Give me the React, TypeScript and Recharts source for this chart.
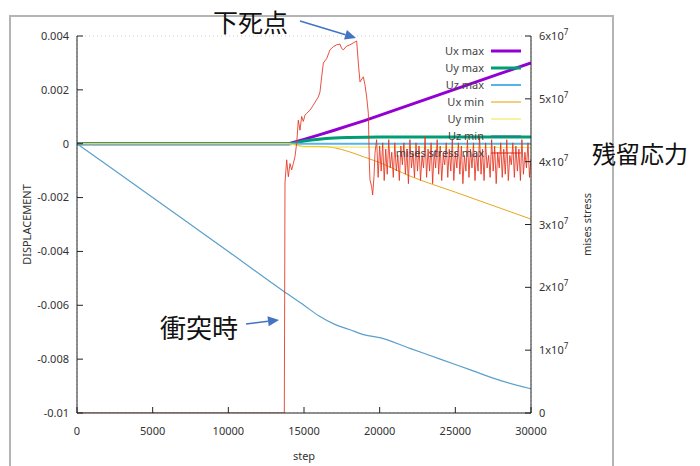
import React from "react";
import { ComposedChart, Line, XAxis, YAxis, CartesianGrid, Legend } from "recharts";

// step axis / displacement axis / stress axis (x10^7)
const stepTicks = [0, 5000, 10000, 15000, 20000, 25000, 30000];
const dispTicks = [-0.01, -0.008, -0.006, -0.004, -0.002, 0, 0.002, 0.004];
const stressTicks = [0, 1, 2, 3, 4, 5, 6];

// [step, displacement]
const uxMax = [
  [0, 0], [14000, 0], [15000, 0.00016], [16000, 0.00033], [17000, 0.0005], [18000, 0.00068],
  [19000, 0.00086], [20000, 0.00105], [22000, 0.00144], [24000, 0.00183], [26000, 0.00222],
  [28000, 0.00261], [30000, 0.003],
];
const uyMax = [
  [0, 0], [14000, 0], [15000, 0.0001], [16000, 0.00017], [17000, 0.00021], [18000, 0.00023],
  [20000, 0.00025], [30000, 0.00025],
];
const uzMax = [[0, 0], [14000, 0], [30000, 0]];
const uxMin = [
  [0, 0], [14000, 0], [15000, -0.0001], [16000, -0.0001], [17000, -0.00015], [18000, -0.0003],
  [19000, -0.0005], [20000, -0.0007], [22000, -0.0012], [25000, -0.0018], [28000, -0.0024],
  [30000, -0.0028],
];
const uyMin = [[0, 0], [14000, 0], [15000, -0.00012], [30000, -0.00014]];
const uzMin = [
  [0, 0], [5000, -0.002], [10000, -0.004], [13700, -0.0055], [15000, -0.006], [16000, -0.0064],
  [17000, -0.0067], [18000, -0.0069], [19000, -0.0071], [20000, -0.0072], [22000, -0.0076],
  [24000, -0.008], [26000, -0.0084], [28000, -0.0088], [30000, -0.0091],
];

// [step, mises stress x10^7]
const stressHead = [
  [0, 0], [13700, 0], [13744, 3.66], [13855, 4.03], [13965, 3.76], [14075, 3.97], [14185, 3.87],
  [14295, 3.97], [14405, 4.08], [14515, 4.29], [14625, 4.66], [14735, 4.5], [14845, 4.72],
  [14955, 4.64], [15066, 4.74], [15176, 4.77], [15396, 4.82], [15616, 4.9], [15947, 5.03],
  [16057, 5.11], [16167, 5.35], [16278, 5.57], [16498, 5.64], [16718, 5.78], [16938, 5.83],
  [17159, 5.86], [17379, 5.87], [17489, 5.8], [17599, 5.78], [17819, 5.84], [18040, 5.86],
  [18260, 5.89], [18480, 5.92], [18590, 5.57], [18700, 5.27], [18921, 5.35], [19031, 5.22],
  [19141, 5.03], [19251, 4.77], [19317, 3.98], [19361, 3.71], [19471, 3.6], [19537, 3.47],
  [19625, 3.76], [19692, 4.14],
];
// residual oscillation, one value every 100 steps from 19800
const stressTail = [
  4.35, 3.75, 4.25, 3.85, 4.3, 3.7, 4.2, 3.8, 4.35, 3.9, 4.15, 3.75, 4.3, 3.85, 4.1, 3.7, 4.25,
  3.95, 4.3, 3.8, 4.2, 3.65, 4.35, 3.9, 4.15, 3.75, 4.3, 3.85, 4.25, 3.7, 4.1, 3.9, 4.4, 3.75,
  4.2, 3.85, 4.3, 3.65, 4.15, 3.9, 4.35, 3.8, 4.25, 3.7, 4.1, 3.95, 4.3, 3.75, 4.2, 3.85, 4.35,
  3.7, 4.15, 3.9, 4.3, 3.8, 4.25, 3.65, 4.1, 3.85, 4.35, 3.75, 4.2, 3.9, 4.3, 3.7, 4.15, 3.85,
  4.4, 3.8, 4.2, 3.7, 4.3, 3.9, 4.1, 3.75, 4.35, 3.85, 4.25, 3.65, 4.15, 3.9, 4.3, 3.75, 4.2,
  3.8, 4.35, 3.7, 4.1, 3.95, 4.3, 3.75, 4.25, 3.85, 4.2, 3.7, 4.35, 3.8, 4.15, 3.9, 4.3, 3.75,
  4.05,
];

const pts = (arr: number[][]) => arr.map(([s, v]) => ({ s, v }));
const stressData = [
  ...pts(stressHead),
  ...stressTail.map((v, i) => ({ s: 19800 + i * 100, v })),
];

const legendItems = [
  { name: "Ux max", color: "#9400d3", w: 3 },
  { name: "Uy max", color: "#009e73", w: 3 },
  { name: "Uz max", color: "#56b4e9", w: 2 },
  { name: "Ux min", color: "#e69f00", w: 1 },
  { name: "Uy min", color: "#f0e442", w: 1 },
  { name: "Uz min", color: "#2f6f8f", w: 1 },
  { name: "mises stress max", color: "#e51e10", w: 1 },
];

const FONT = "'Noto Sans', sans-serif";
const tickStyle = { fontSize: 11, fill: "#333", fontFamily: FONT };

const StressTick = (props: any) => {
  const { x, y, payload } = props;
  const v = payload.value;
  return (
    <text x={x} y={y} dy={4} textAnchor="start" {...tickStyle}>
      {v === 0 ? "0" : (
        <>
          {v}x10<tspan dy={-5} fontSize={8}>7</tspan>
        </>
      )}
    </text>
  );
};

const renderLegend = () => (
  <svg width={160} height={125} style={{ display: "block" }}>
    {legendItems.map((it, i) => {
      const y = 9 + i * 17;
      return (
        <g key={it.name}>
          <text x={104} y={y} dy={4} textAnchor="end" fontSize={11} fill="#444" fontFamily={FONT}>
            {it.name}
          </text>
          <line x1={111} x2={141} y1={y} y2={y} stroke={it.color} strokeWidth={it.w} />
        </g>
      );
    })}
  </svg>
);

const Arrow = ({ x1, y1, x2, y2 }: { x1: number; y1: number; x2: number; y2: number }) => {
  const a = Math.atan2(y2 - y1, x2 - x1);
  const L = 11, W = 5;
  const bx = x2 - L * Math.cos(a), by = y2 - L * Math.sin(a);
  const p1 = `${bx + W * Math.sin(a)},${by - W * Math.cos(a)}`;
  const p2 = `${bx - W * Math.sin(a)},${by + W * Math.cos(a)}`;
  return (
    <g>
      <line x1={x1} y1={y1} x2={bx} y2={by} stroke="#4472c4" strokeWidth={1.5} />
      <polygon points={`${x2},${y2} ${p1} ${p2}`} fill="#4472c4" />
    </g>
  );
};

const jp = { position: "absolute" as const, fontFamily: "'Noto Sans CJK JP', sans-serif", color: "#111", lineHeight: 1, whiteSpace: "nowrap" as const };

export default function App() {
  return (
    <div style={{ position: "absolute", left: 0, top: 0, width: 700, height: 466, background: "#fff", overflow: "hidden" }}>
      <div style={{ position: "absolute", left: 9, top: 15, width: 601, height: 470, border: "2px solid #b4b4b4" }} />
      <div style={{ position: "absolute", left: 0, top: 0 }}>
        <ComposedChart width={700} height={466} margin={{ top: 36, right: 109, bottom: 13, left: 17 }}>
          <CartesianGrid stroke="#cccccc" strokeDasharray="1 3" horizontal vertical />
          <XAxis xAxisId="b" dataKey="s" type="number" domain={[0, 30000]} ticks={stepTicks}
            allowDataOverflow height={40} tick={tickStyle} stroke="#222" tickSize={-6} tickMargin={20}
            label={{ value: "step", position: "bottom", offset: -1, style: { ...tickStyle } }} />
          <XAxis xAxisId="t" orientation="top" type="number" domain={[0, 30000]} ticks={stepTicks}
            height={0} tick={false} stroke="#222" tickSize={-6} />
          <YAxis yAxisId="d" type="number" domain={[-0.01, 0.004]} ticks={dispTicks} width={60}
            allowDataOverflow tick={tickStyle} stroke="#222" tickSize={-6} tickMargin={14}
            tickFormatter={(v: number) => String(v)}
            label={{ value: "DISPLACEMENT", angle: -90, position: "insideLeft", offset: 10, style: { ...tickStyle, textAnchor: "middle" } }} />
          <YAxis yAxisId="m" orientation="right" type="number" domain={[0, 6]} ticks={stressTicks} width={60}
            allowDataOverflow tick={<StressTick />} stroke="#222" tickSize={-6} tickMargin={14}
            label={{ value: "mises stress", angle: -90, position: "insideRight", offset: 4, style: { ...tickStyle, textAnchor: "middle" } }} />
          <Legend content={renderLegend} layout="horizontal" verticalAlign="middle" align="center"
            wrapperStyle={{ left: 380, top: 42, width: 160, height: 125 }} />
          <Line xAxisId="b" yAxisId="d" data={pts(uxMax)} dataKey="v" name="Ux max" stroke="#9400d3" strokeWidth={3} dot={false} isAnimationActive={false} />
          <Line xAxisId="b" yAxisId="d" data={pts(uyMax)} dataKey="v" name="Uy max" type="monotone" stroke="#009e73" strokeWidth={3} dot={false} isAnimationActive={false} />
          <Line xAxisId="b" yAxisId="d" data={pts(uzMax)} dataKey="v" name="Uz max" stroke="#56b4e9" strokeWidth={2} dot={false} isAnimationActive={false} />
          <Line xAxisId="b" yAxisId="d" data={pts(uxMin)} dataKey="v" name="Ux min" type="monotone" stroke="#e8a520" strokeWidth={1} dot={false} isAnimationActive={false} />
          <Line xAxisId="b" yAxisId="d" data={pts(uyMin)} dataKey="v" name="Uy min" stroke="#f0e442" strokeWidth={1} dot={false} isAnimationActive={false} />
          <Line xAxisId="b" yAxisId="d" data={pts(uzMin)} dataKey="v" name="Uz min" type="monotone" stroke="#5aa0cc" strokeWidth={1.2} dot={false} isAnimationActive={false} />
          <Line xAxisId="b" yAxisId="m" data={stressData} dataKey="v" name="mises stress max" stroke="#e5331f" strokeWidth={1} strokeOpacity={0.85} dot={false} isAnimationActive={false} />
        </ComposedChart>
      </div>
      <svg width={700} height={466} style={{ position: "absolute", left: 0, top: 0, pointerEvents: "none" }}>
        <Arrow x1={300} y1={21} x2={356} y2={38} />
        <Arrow x1={246} y1={324} x2={279} y2={320} />
      </svg>
      <div style={{ ...jp, left: 213, top: 9, fontSize: 25 }}>下死点</div>
      <div style={{ ...jp, left: 160, top: 314, fontSize: 26 }}>衝突時</div>
      <div style={{ ...jp, left: 592, top: 141, fontSize: 24 }}>残留応力</div>
    </div>
  );
}
